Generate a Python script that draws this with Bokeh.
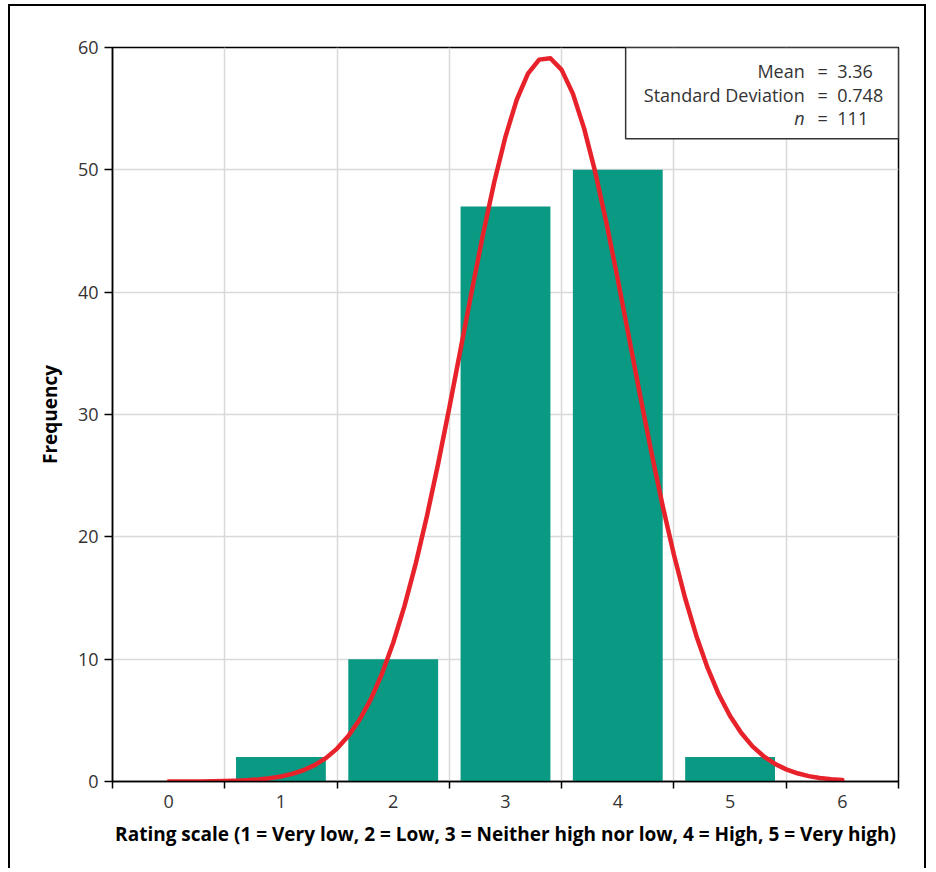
from bokeh.plotting import figure
from bokeh.models import FixedTicker, Label, BoxAnnotation, ColumnDataSource
from bokeh.embed import file_html
from bokeh.resources import INLINE

# ---- data ----
ratings = [1, 2, 3, 4, 5]
frequency = [2, 10, 47, 50, 2]

curve_x = [0.0, 0.1, 0.2, 0.3, 0.4, 0.5, 0.6, 0.7, 0.8, 0.9,
           1.0, 1.1, 1.2, 1.3, 1.4, 1.5, 1.6, 1.7, 1.8, 1.9,
           2.0, 2.1, 2.2, 2.3, 2.4, 2.5, 2.6, 2.7, 2.8, 2.9,
           3.0, 3.1, 3.2, 3.3, 3.4, 3.5, 3.6, 3.7, 3.8, 3.9,
           4.0, 4.1, 4.2, 4.3, 4.4, 4.5, 4.6, 4.7, 4.8, 4.9,
           5.0, 5.1, 5.2, 5.3, 5.4, 5.5, 5.6, 5.7, 5.8, 5.9, 6.0]
curve_y = [0.0, 0.0, 0.01, 0.01, 0.02, 0.04, 0.07, 0.11, 0.17, 0.27,
           0.41, 0.62, 0.92, 1.34, 1.91, 2.69, 3.72, 5.05, 6.72, 8.81,
           11.34, 14.33, 17.79, 21.69, 25.98, 30.57, 35.33, 40.11, 44.73, 49.0,
           52.72, 55.73, 57.86, 59.01, 59.12, 58.17, 56.23, 53.39, 49.79, 45.62,
           41.05, 36.29, 31.51, 26.88, 22.52, 18.54, 14.98, 11.9, 9.28, 7.11,
           5.35, 3.96, 2.87, 2.05, 1.44, 0.99, 0.67, 0.44, 0.29, 0.19, 0.12]

x_tick_values = [0, 1, 2, 3, 4, 5, 6]
x_edges = [-0.5, 0.5, 1.5, 2.5, 3.5, 4.5, 5.5, 6.5]
y_tick_values = [0, 10, 20, 30, 40, 50, 60]

stat_names = ["Mean", "Standard Deviation", "n"]
stat_values = ["3.36", "0.748", "111"]
stat_rows_y = [58.05, 56.1, 54.2]

x_title = "Rating scale (1 = Very low, 2 = Low, 3 = Neither high nor low, 4 = High, 5 = Very high)"
y_title = "Frequency"

FONT = "Open Sans"
TXT = "#333333"

p = figure(width=918, height=864, x_range=(-0.5, 6.5), y_range=(0, 60),
           output_backend="svg", toolbar_location=None,
           min_border_left=102, min_border_right=30, min_border_top=41, min_border_bottom=89)
p.margin = (4, 0, 0, 8)
p.styles = {"border-left": "2px solid #000", "border-top": "2px solid #000",
            "border-right": "2px solid #000"}

p.outline_line_color = "black"
p.outline_line_width = 1.5
p.outline_line_alpha = 1

# grids
p.xgrid.ticker = FixedTicker(ticks=x_edges)
p.ygrid.ticker = FixedTicker(ticks=y_tick_values)
for g in (p.xgrid, p.ygrid):
    g.grid_line_color = "#d9d9d9"
    g.grid_line_width = 1.5

# x axis
xa = p.xaxis[0]
xa.ticker = FixedTicker(ticks=x_tick_values, minor_ticks=x_edges)
xa.major_tick_line_color = None
xa.major_tick_out = 7
xa.major_tick_in = 0
xa.minor_tick_line_color = "black"
xa.minor_tick_line_width = 1.5
xa.minor_tick_out = 7
xa.minor_tick_in = 0
xa.major_label_standoff = 6
xa.axis_label = x_title
xa.axis_label_standoff = 10

# y axis
ya = p.yaxis[0]
ya.ticker = FixedTicker(ticks=y_tick_values)
ya.major_tick_out = 8
ya.major_tick_in = 0
ya.major_tick_line_color = "black"
ya.major_tick_line_width = 1.5
ya.minor_tick_line_color = None
ya.major_label_standoff = 6
ya.axis_label = y_title
ya.axis_label_standoff = 12

for ax in (xa, ya):
    ax.axis_line_color = "black"
    ax.axis_line_width = 1.5
    ax.major_label_text_font = FONT
    ax.major_label_text_font_size = "18px"
    ax.major_label_text_color = TXT
    ax.axis_label_text_font = FONT
    ax.axis_label_text_font_size = "19px"
    ax.axis_label_text_font_style = "bold"
    ax.axis_label_text_color = "black"

# bars
bars = ColumnDataSource(dict(x=ratings, top=frequency))
p.vbar(x="x", top="top", bottom=0, width=0.8, source=bars,
       fill_color="#0A9A84", line_color=None)

# normal curve
p.line(curve_x, curve_y, line_color="#E8222A", line_width=4.5, line_cap="round",
       line_join="round")

# stats box
p.add_layout(BoxAnnotation(left=4.07, right=6.5, top=60, bottom=52.55,
                           fill_color="white", fill_alpha=1,
                           line_color="#333333", line_width=1.5, line_alpha=1))
for name, val, yy in zip(stat_names, stat_values, stat_rows_y):
    style = "italic" if name == "n" else "normal"
    p.add_layout(Label(x=5.665, y=yy, text=name, text_align="right", text_baseline="middle",
                       text_font=FONT, text_font_size="18px", text_color=TXT,
                       text_font_style=style))
    p.add_layout(Label(x=5.825, y=yy, text="=", text_align="center", text_baseline="middle",
                       text_font=FONT, text_font_size="18px", text_color=TXT))
    p.add_layout(Label(x=5.955, y=yy, text=val, text_align="left", text_baseline="middle",
                       text_font=FONT, text_font_size="18px", text_color=TXT))

open("out.html", "w").write(file_html(p, INLINE))
